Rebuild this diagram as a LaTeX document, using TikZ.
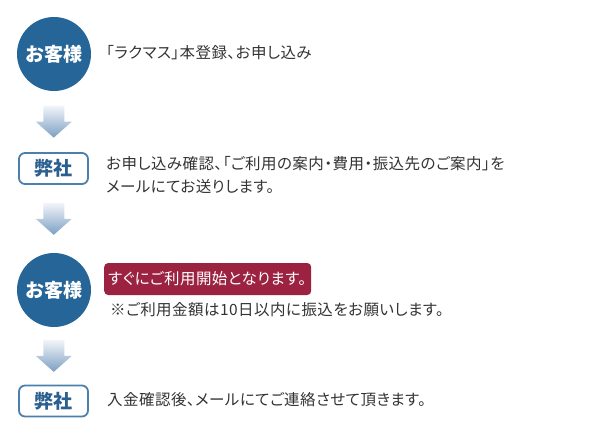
\documentclass[tikz,border=0pt]{standalone}
\usepackage{fontspec}
\setmainfont{Noto Sans CJK JP}[RawFeature=+palt, LetterSpace=3.0]
\usepackage{tikz}
\usetikzlibrary{calc,positioning}

\definecolor{custblue}{HTML}{266598}
\definecolor{usline}{HTML}{4B80AD}
\definecolor{ustext}{HTML}{2B5F8F}
\definecolor{startred}{HTML}{9C2242}
\definecolor{msgtext}{HTML}{333333}
\definecolor{arrowtop}{HTML}{F2F5F9}
\definecolor{arrowbot}{HTML}{7C9FC3}

\tikzset{
  customer/.style={circle, fill=custblue, minimum size=74pt, inner sep=0pt,
    text=white, font=\fontsize{19}{19}\selectfont\bfseries},
  company/.style={draw=usline, line width=1.8pt, rounded corners=6pt, fill=white,
    minimum width=69pt, minimum height=31pt, inner sep=0pt,
    text=ustext, font=\fontsize{19}{19}\selectfont\bfseries},
  msg/.style={anchor=west, inner sep=0pt, align=left, text=msgtext,
    font=\fontsize{15.5}{23}\selectfont},
  highlight/.style={anchor=west, fill=startred, rounded corners=4pt, text=white,
    minimum height=32pt, text width=199pt, inner xsep=4pt, align=left,
    font=\fontsize{15.5}{15.5}\selectfont},
  flowarrow/.style={top color=arrowtop, bottom color=arrowbot}
}

\begin{document}
\begin{tikzpicture}[x=1pt, y=-1pt]
\useasboundingbox (0,0) rectangle (600,437);

% left column
\node[customer] (cust1) at (54,54) {お客様};
\node[company] (us1) at (53.5,168.5) {弊社};
\node[customer] (cust2) at (54,290) {お客様};
\node[company] (us2) at (53.5,401) {弊社};

% texts
\node[msg] (msg1) at (106,53) {「ラクマス」本登録、お申し込み};
\node[msg] (msg2) at (106,174.5) {お申し込み確認、「ご利用の案内・費用・振込先のご案内」を\\メールにてお送りします。};
\node[highlight] (start) at (104,279) {すぐにご利用開始となります。};
\node[msg] (note) at (110,310) {※ご利用金額は10日以内に振込をお願いします。};
\node[msg] (msg4) at (107,400) {入金確認後、メールにてご連絡させて頂きます。};

% arrows between the steps
\foreach \a/\b in {cust1/us1, us1/cust2, cust2/us2}
\shade[flowarrow] ($(\a.south)!0.5!(\b.north)$) ++(-10.5,-16) -- ++(21,0) -- ++(0,16)
  -- ++(7.5,0) -- ++(-18,16) -- ++(-18,-16) -- ++(7.5,0) -- cycle;
\end{tikzpicture}
\end{document}
